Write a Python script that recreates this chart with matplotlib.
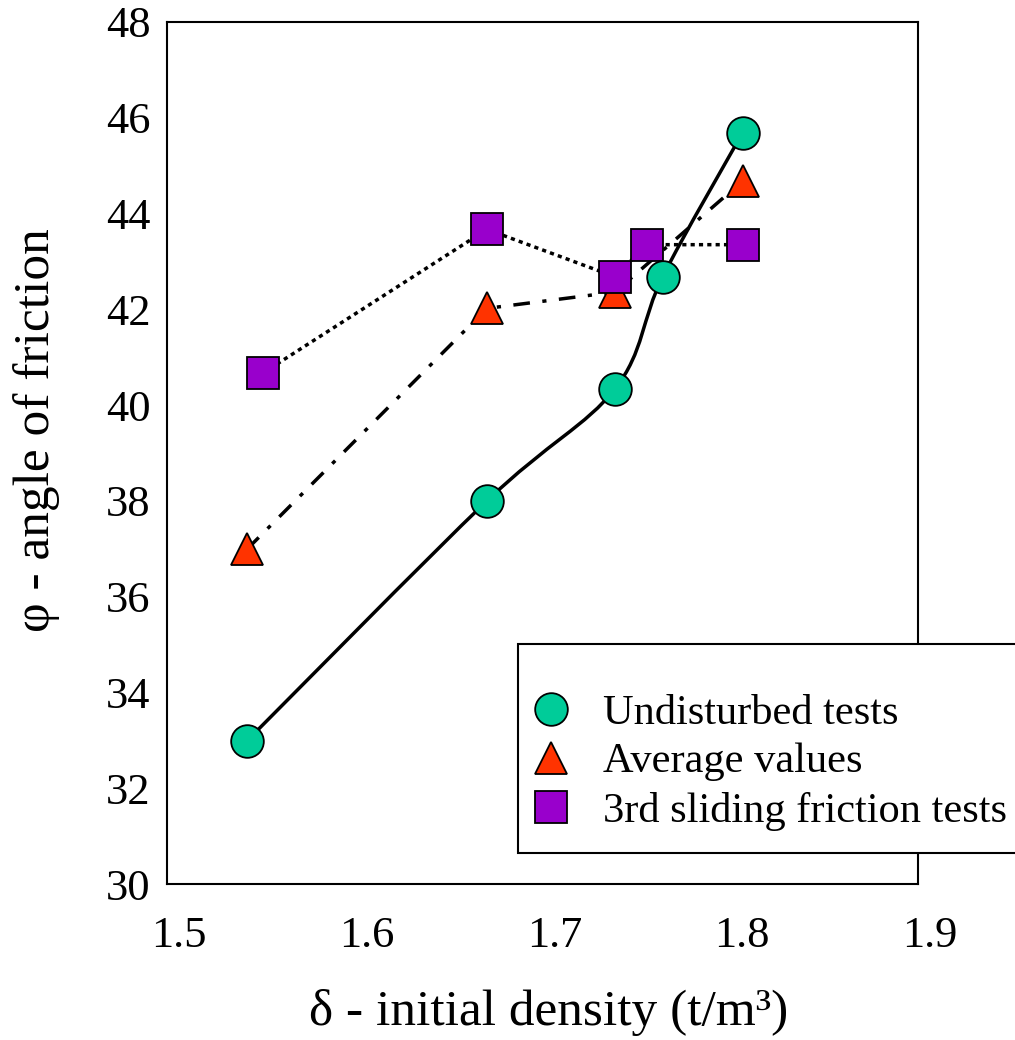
import matplotlib.pyplot as plt
import matplotlib.transforms as mtransforms
import numpy as np
from matplotlib.path import Path
from matplotlib.patches import PathPatch, Rectangle
from matplotlib.lines import Line2D

plt.rcParams['font.family'] = ['Liberation Serif', 'DejaVu Serif']

# initial density (t/m3) vs. angle of friction (deg)
undisturbed_x = [1.5426, 1.6704, 1.7386, 1.7640, 1.8066]
undisturbed_y = [32.99, 38.00, 40.34, 42.68, 45.69]

average_x = [1.5426, 1.6704, 1.7386, 1.8066]
average_y = [36.99, 42.02, 42.36, 44.68]

sliding_x = [1.5511, 1.6704, 1.7386, 1.7555, 1.8066]
sliding_y = [40.67, 43.67, 42.68, 43.35, 43.35]

x_ticks = [1.5, 1.6, 1.7, 1.8, 1.9]
y_ticks = [30, 32, 34, 36, 38, 40, 42, 44, 46, 48]

labels = ['Undisturbed tests', 'Average values', '3rd sliding friction tests']
green, red, purple = '#00CC99', '#FF3300', '#9900CC'
ms = 23.5
mew = 1.3
lw = 2.5


def smooth_path(xs, ys):
    # cubic bezier through the points (catmull-rom style tangents)
    pts = np.column_stack([xs, ys])
    ext = np.vstack([pts[0], pts, pts[-1]])
    verts = [pts[0]]
    codes = [Path.MOVETO]
    for i in range(len(pts) - 1):
        p0, p1, p2, p3 = ext[i], ext[i + 1], ext[i + 2], ext[i + 3]
        verts += [p1 + (p2 - p0) / 6, p2 - (p3 - p1) / 6, p2]
        codes += [Path.CURVE4] * 3
    return Path(verts, codes)


fig = plt.figure(figsize=(10.15, 10.40), dpi=100)
ax = fig.add_axes([167 / 1015, 156 / 1040, 751 / 1015, 862 / 1040])

ax.plot(average_x, average_y, color='black', lw=lw, ls=(0, (4.8, 3.6, 1.2, 3.6)),
        marker='^', ms=ms, mfc=red, mec='black', mew=mew, zorder=2)
ax.plot(sliding_x, sliding_y, color='black', lw=lw, ls=(0, (1.2, 1.2)),
        marker='s', ms=ms, mfc=purple, mec='black', mew=mew, zorder=3)
ax.add_patch(PathPatch(smooth_path(undisturbed_x, undisturbed_y), fill=False,
                       ec='black', lw=lw, zorder=4))
ax.plot(undisturbed_x, undisturbed_y, ls='none', marker='o', ms=ms, mfc=green,
        mec='black', mew=mew, zorder=5)

ax.set_xlim(1.5, 1.9)
ax.set_ylim(30, 48)
ax.set_xticks(x_ticks)
ax.set_xticklabels([f'{v:.1f}' for v in x_ticks])
ax.set_yticks(y_ticks)
ax.tick_params(length=0, labelsize=32)
ax.tick_params(axis='x', pad=23)
ax.tick_params(axis='y', pad=12)
offset = mtransforms.ScaledTranslation(12 / 100, 0, fig.dpi_scale_trans)
for lab in ax.get_xticklabels():
    lab.set_transform(lab.get_transform() + offset)
for sp in ax.spines.values():
    sp.set_linewidth(1.5)

ax.set_xlabel('δ - initial density (t/m³)', fontsize=37)
ax.set_ylabel('φ - angle of friction', fontsize=37)
ax.xaxis.set_label_coords(0.5087, -0.122)
ax.yaxis.set_label_coords(-0.142, 0.527)

# legend box runs off the right edge of the figure
fig.add_artist(Rectangle((518 / 1015, 187 / 1040), 520 / 1015, 209 / 1040,
                         transform=fig.transFigure, fc='white', ec='black', lw=1.5))
handles = [
    Line2D([], [], ls='none', marker='o', ms=ms, mfc=green, mec='black', mew=mew),
    Line2D([], [], ls='none', marker='^', ms=ms, mfc=red, mec='black', mew=mew),
    Line2D([], [], ls='none', marker='s', ms=ms, mfc=purple, mec='black', mew=mew),
]
fig.legend(handles, labels, loc='upper left', bbox_to_anchor=(530 / 1015, 1 - 694 / 1040),
           bbox_transform=fig.transFigure, frameon=False, fontsize=30.5, borderpad=0,
           borderaxespad=0, handlelength=1.0, handletextpad=0.72, labelspacing=0.24)

fig.savefig('out.png', dpi=100)
